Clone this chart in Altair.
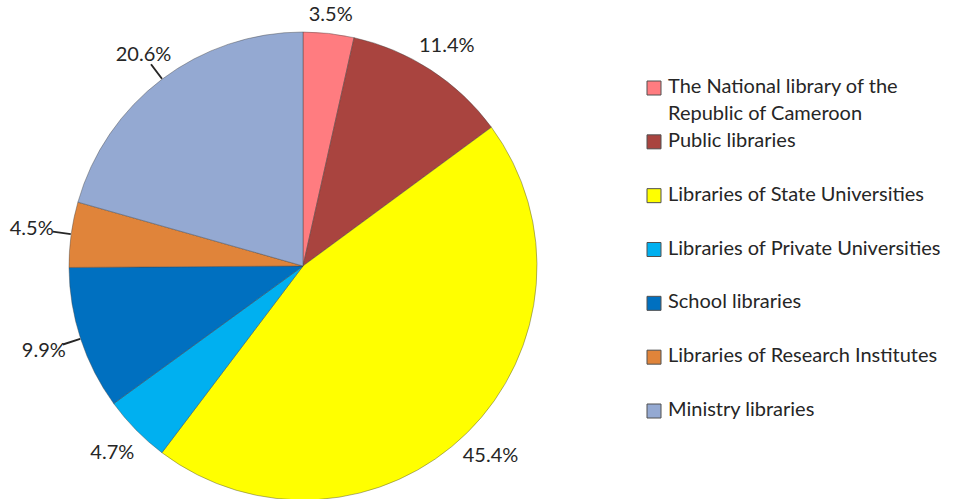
import altair as alt
import pandas as pd

categories = [
    "The National library of the\nRepublic of Cameroon",
    "Public libraries",
    "Libraries of State Universities",
    "Libraries of Private Universities",
    "School libraries",
    "Libraries of Research Institutes",
    "Ministry libraries",
]
shares = [3.5, 11.4, 45.4, 4.7, 9.9, 4.5, 20.6]
labels = ["3.5%", "11.4%", "45.4%", "4.7%", "9.9%", "4.5%", "20.6%"]
colors = ["#FF7C80", "#A9443F", "#FFFF00", "#00B0F0", "#0070C0", "#E0843A", "#94A9D2"]
has_leader = [False, False, False, False, True, True, True]

df = pd.DataFrame({
    "category": categories,
    "share": shares,
    "label": labels,
    "idx": list(range(len(categories))),
    "leader": has_leader,
})

CX, CY, R = 303, 266, 234
FONT = "Lato"
TXT = "#262626"

color_scale = alt.Scale(domain=categories, range=colors)
legend_y = alt.Y("category:N", sort=categories,
                 scale=alt.Scale(type="point", domain=categories, range=[88, 411], padding=0),
                 axis=None)

base = (
    alt.Chart(df)
    .transform_window(cum="sum(share)", sort=[alt.SortField("idx")], frame=[None, 0])
    .transform_joinaggregate(total="sum(share)")
    .transform_calculate(
        mid="(datum.cum - datum.share/2) / datum.total * 2 * PI",
        mid2="(datum.cum - datum.share/2) / datum.total * 2 * PI + 0.003",
        lr="250 + 24 * abs(sin((datum.cum - datum.share/2) / datum.total * 2 * PI))",
    )
)

pie = base.mark_arc(outerRadius=R, stroke="#404040", strokeWidth=0.7, strokeOpacity=0.6).encode(
    theta=alt.Theta("share:Q", stack=True),
    order=alt.Order("idx:Q"),
    color=alt.Color("category:N", sort=categories, scale=color_scale, legend=None),
    x=alt.value(CX),
    y=alt.value(CY),
)

leaders = base.transform_filter("datum.leader").mark_arc(
    radius=252, radius2=235, stroke=TXT, strokeWidth=1.2, fillOpacity=0
).encode(
    theta=alt.Theta("mid:Q", scale=None, stack=None),
    theta2="mid2:Q",
    x=alt.value(CX),
    y=alt.value(CY),
)

text = base.mark_text(font=FONT, fontSize=20, color=TXT).encode(
    theta=alt.Theta("mid:Q", scale=None, stack=None),
    radius=alt.Radius("lr:Q", scale=None),
    text="label:N",
    x=alt.value(CX),
    y=alt.value(CY),
)

legend_sym = alt.Chart(df).mark_square(size=196, stroke="#505050", strokeWidth=1, opacity=1).encode(
    y=legend_y,
    x=alt.value(654),
    color=alt.Color("category:N", sort=categories, scale=color_scale, legend=None),
)

legend_txt = alt.Chart(df).mark_text(
    font=FONT, fontSize=20, color=TXT, align="left", baseline="top", dy=-11,
    lineBreak="\n", lineHeight=27,
).encode(
    y=legend_y,
    x=alt.value(668),
    text="category:N",
)

chart = (
    alt.layer(pie, leaders, text, legend_sym, legend_txt)
    .properties(width=957, height=499, autosize=alt.AutoSizeParams(type="none"), padding=0)
    .configure_view(stroke=None)
)

chart.save("out.html", embed_options={"renderer": "svg", "actions": False})
